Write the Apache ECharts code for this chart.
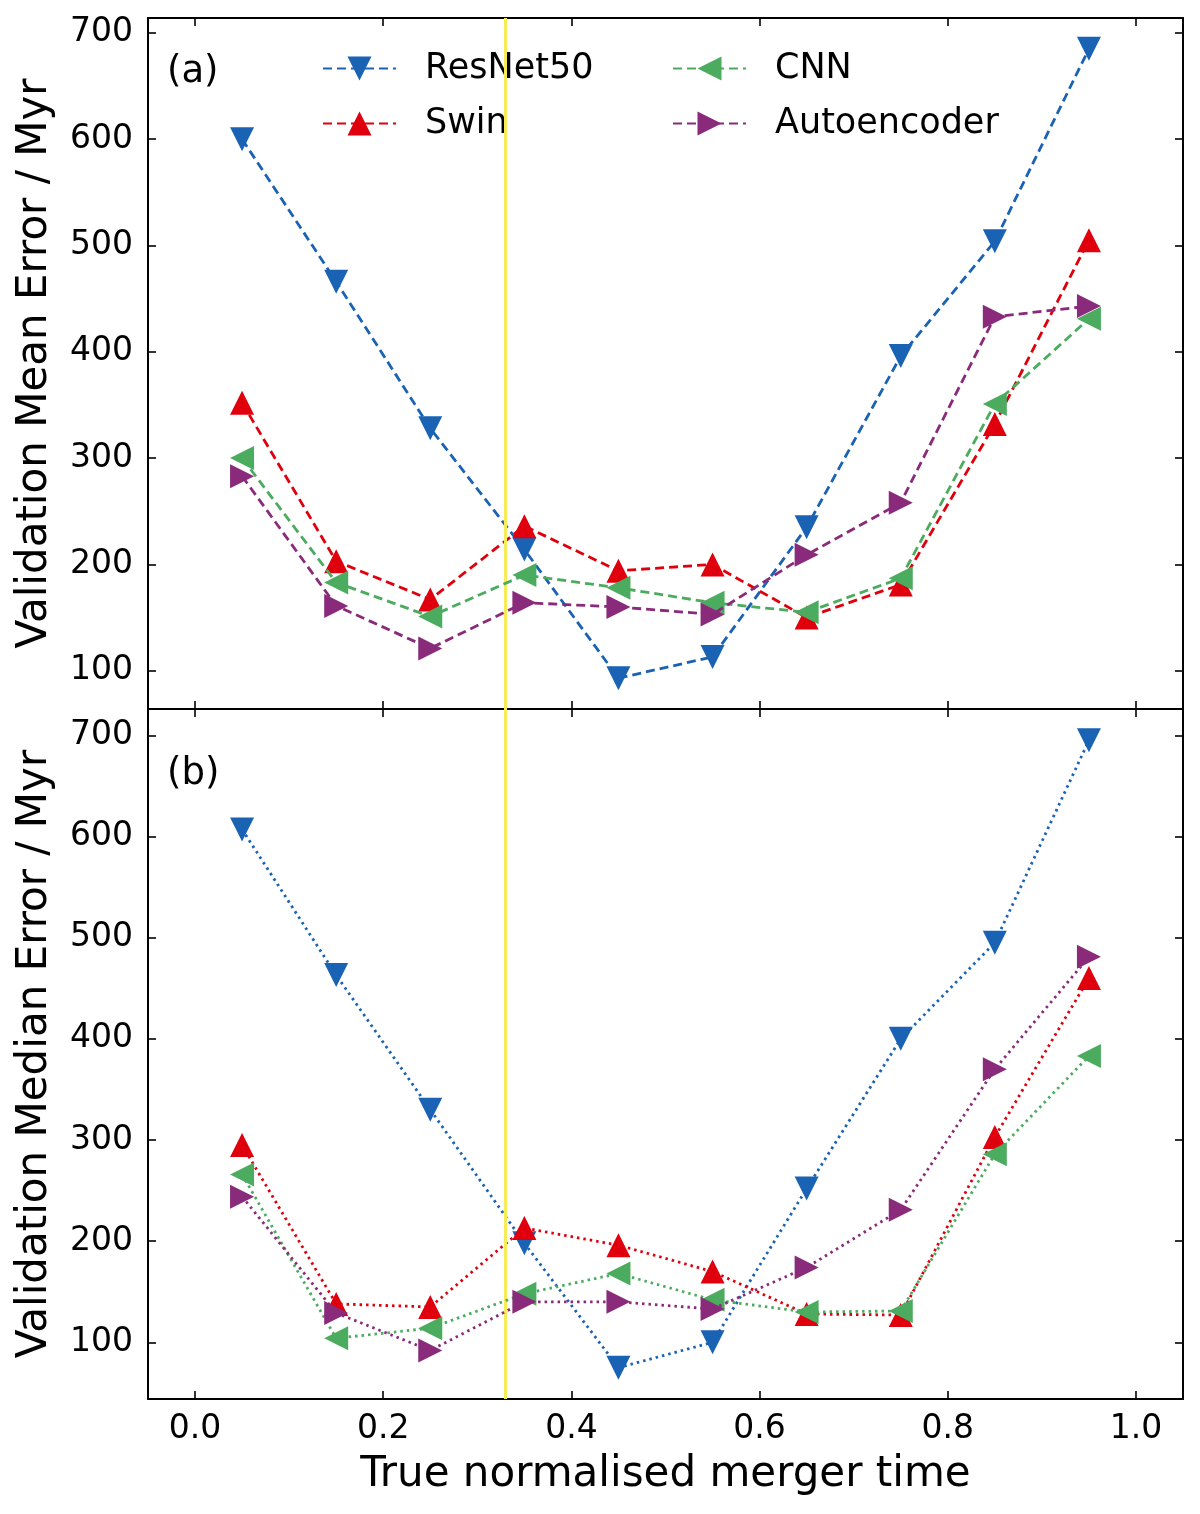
<!DOCTYPE html>
<html>
<head>
<meta charset="utf-8">
<script src="https://cdn.jsdelivr.net/npm/echarts@6/dist/echarts.min.js"></script>
<style>
html, body { margin: 0; padding: 0; background: #fff; }
#chart { width: 1200px; height: 1514px; }
</style>
</head>
<body>
<div id="chart"></div>
<script>
// bin centres on the x axis
var mergerTime = [0.05, 0.15, 0.25, 0.35, 0.45, 0.55, 0.65, 0.75, 0.85, 0.95];

// (a) mean error, Myr
var resnetMean = [600, 466, 328, 214, 93, 113, 235, 396, 504, 685];
var swinMean = [352, 203, 167, 236, 194, 200, 150, 181, 332, 505];
var cnnMean = [300, 183, 151, 190, 178, 164, 155, 187, 351, 431];
var autoMean = [283, 161, 121, 164, 160, 153, 209, 258, 433, 443];

// (b) median error, Myr
var resnetMedian = [607, 463, 330, 198, 75, 100, 252, 400, 495, 695];
var swinMedian = [295, 138, 135, 213, 196, 170, 128, 127, 303, 460];
var cnnMedian = [266, 104, 114, 148, 168, 142, 130, 131, 286, 383];
var autoMedian = [244, 129, 92, 140, 140, 133, 174, 231, 370, 481];

var xTicks = [0, 0.2, 0.4, 0.6, 0.8, 1.0];
var yTicks = [100, 200, 300, 400, 500, 600, 700];
var splitTime = 1 / 3;

var FONT = 'DejaVu Sans';
var models = [
    {name: 'ResNet50', color: '#1a62b3', rotate: 180, mean: resnetMean, median: resnetMedian},
    {name: 'Swin', color: '#e0000d', rotate: 0, mean: swinMean, median: swinMedian},
    {name: 'CNN', color: '#4bab5e', rotate: 90, mean: cnnMean, median: cnnMedian},
    {name: 'Autoencoder', color: '#892a7a', rotate: -90, mean: autoMean, median: autoMedian}
];

function pairs(ys) {
    return mergerTime.map(function (x, i) { return [x, ys[i]]; });
}

var frame = {show: true, onZero: false, lineStyle: {color: '#000', width: 2}};
var ticks = function (values) {
    return {show: true, inside: true, length: 8, customValues: values, lineStyle: {color: '#000', width: 1.6}};
};

function makeX(grid, position, withLabels) {
    var ax = {
        type: 'value', gridIndex: grid, position: position,
        min: -0.05, max: 1.05,
        axisLine: frame,
        axisTick: ticks(xTicks),
        splitLine: {show: false},
        axisLabel: {show: false}
    };
    if (withLabels) {
        ax.axisLabel = {
            show: true, customValues: xTicks, margin: 14,
            fontFamily: FONT, fontSize: 33, color: '#000',
            formatter: function (v) { return v.toFixed(1); }
        };
        ax.name = 'True normalised merger time';
        ax.nameLocation = 'middle';
        ax.nameGap = 55;
        ax.nameTextStyle = {fontFamily: FONT, fontSize: 42, color: '#000'};
    }
    return ax;
}

function makeY(grid, position, min, max, name) {
    var ax = {
        type: 'value', gridIndex: grid, position: position,
        min: min, max: max,
        axisLine: frame,
        axisTick: ticks(yTicks),
        splitLine: {show: false},
        axisLabel: {show: false}
    };
    if (name) {
        ax.axisLabel = {show: true, customValues: yTicks, margin: 15, fontFamily: FONT, fontSize: 33, color: '#000'};
        ax.name = name;
        ax.nameLocation = 'middle';
        ax.nameGap = 92;
        ax.nameTextStyle = {fontFamily: FONT, fontSize: 42, color: '#000'};
    }
    return ax;
}

var series = [];
models.forEach(function (m, i) {
    [['mean', 0, [9, 5]], ['median', 2, [2.5, 4]]].forEach(function (p) {
        var s = {
            name: m.name,
            type: 'line',
            xAxisIndex: p[1], yAxisIndex: p[1],
            data: pairs(m[p[0]]),
            symbol: 'triangle',
            symbolSize: 24,
            symbolRotate: m.rotate,
            z: 3 + i,
            itemStyle: {color: m.color},
            lineStyle: {color: m.color, width: 2.8, type: p[2]}
        };
        if (i === 0) {
            s.markLine = {
                silent: true, symbol: ['none', 'none'],
                label: {show: false},
                lineStyle: {color: '#f6ec58', width: 3, type: 'solid'},
                data: [{xAxis: splitTime}]
            };
        }
        series.push(s);
    });
});

var legendText = {fontFamily: FONT, fontSize: 35, color: '#000', lineHeight: 35, padding: [0, 0, 0, 24]};

var chart = echarts.init(document.getElementById('chart'));
chart.setOption({
    animation: false,
    backgroundColor: '#fff',
    grid: [
        {left: 148, right: 17, top: 18, height: 691},
        {left: 148, right: 17, top: 709, height: 690}
    ],
    xAxis: [
        makeX(0, 'bottom', false),
        makeX(0, 'top', false),
        makeX(1, 'bottom', true),
        makeX(1, 'top', false)
    ],
    yAxis: [
        makeY(0, 'left', 64, 714, 'Validation Mean Error / Myr'),
        makeY(0, 'right', 64, 714, null),
        makeY(1, 'left', 44, 726, 'Validation Median Error / Myr'),
        makeY(1, 'right', 44, 726, null)
    ],
    title: [
        {text: '(a)', left: 167, top: 54, padding: 0, textStyle: {fontFamily: FONT, fontSize: 37, fontWeight: 'normal', color: '#000'}},
        {text: '(b)', left: 167, top: 756, padding: 0, textStyle: {fontFamily: FONT, fontSize: 37, fontWeight: 'normal', color: '#000'}}
    ],
    legend: [
        {data: ['ResNet50', 'Swin'], orient: 'vertical', left: 322, top: 51, padding: 0,
         itemWidth: 73, itemHeight: 30, itemGap: 20, textStyle: legendText},
        {data: ['CNN', 'Autoencoder'], orient: 'vertical', left: 672, top: 51, padding: 0,
         itemWidth: 73, itemHeight: 30, itemGap: 20, textStyle: legendText}
    ],
    series: series
});
</script>
</body>
</html>
